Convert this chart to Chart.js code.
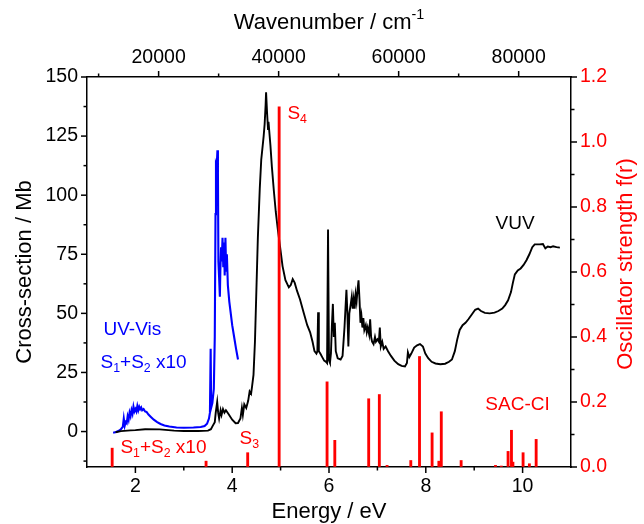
<!DOCTYPE html>
<html><head><meta charset="utf-8">
<script src="https://cdn.jsdelivr.net/npm/chart.js@4/dist/chart.umd.min.js"></script>
<style>html,body{margin:0;padding:0;background:#fff}</style>
</head><body>
<canvas id="c" width="644" height="524"></canvas>
<script>
// ---------- data ----------
const vuvEnergy = [1.59,1.7,1.9,2.0,2.2,2.5,2.8,3.0,3.3,3.5,3.56,3.60,3.64,3.66,3.69,3.71,3.73,3.76,3.78,3.81,3.84,3.87,3.92,4.00,4.07,4.12,4.17,4.20,4.22,4.25,4.29,4.33,4.36,4.39,4.41,4.44,4.47,4.50,4.53,4.57,4.60,4.63,4.65,4.67,4.69,4.70,4.72,4.74,4.75,4.77,4.79,4.82,4.86,4.90,4.94,4.99,5.04,5.10,5.17,5.21,5.25,5.29,5.34,5.40,5.48,5.55,5.61,5.66,5.70,5.74,5.76,5.775,5.79,5.82,5.86,5.90,5.94,5.96,5.98,6.00,6.02,6.04,6.06,6.08,6.10,6.12,6.14,6.18,6.24,6.28,6.32,6.36,6.38,6.40,6.42,6.45,6.47,6.49,6.51,6.53,6.55,6.57,6.59,6.61,6.63,6.65,6.67,6.69,6.71,6.73,6.76,6.78,6.80,6.83,6.85,6.87,6.89,6.92,6.95,6.97,7.00,7.03,7.05,7.07,7.10,7.13,7.17,7.22,7.28,7.35,7.43,7.50,7.57,7.61,7.63,7.66,7.70,7.76,7.82,7.88,7.94,7.99,8.05,8.12,8.20,8.30,8.40,8.48,8.54,8.60,8.65,8.70,8.76,8.82,8.88,8.95,9.02,9.08,9.14,9.22,9.32,9.42,9.50,9.58,9.64,9.70,9.76,9.80,9.84,9.90,9.96,10.02,10.08,10.14,10.20,10.25,10.35,10.42,10.47,10.52,10.58,10.63,10.70,10.77];
const vuvCross = [-0.3,0.2,0.5,0.6,1.0,0.9,0.4,0.2,0.2,0.4,1.0,2.5,4,8,12.5,8,5.5,9,7,9.5,8,9,7.5,5,3.5,3.6,5.5,10,7,11.5,10,13,17,16,19,24,38,60,82,103,115,121,125,130,138,143.5,135,128,131,126,121,112,102,93,86,78,70,64,61,62,64.5,63,59.5,56,50,45,42,38,34,33,34,50.5,34,33,31.5,30,29.5,29,85.5,30,29,33,45,54,40,46,34,31,30.5,32,44,60,50,36,50,54,57,52,56,52,58,55,60,64,56,46,49,44,48,43,45,42,44,41,47.5,40,38,37,40,38,39,38,44,36,38,35,36,34,32,30,28.5,27.8,27.5,29,33.5,31.5,33,35.5,36.5,37,36,33,31,29.5,28.8,28.5,28.7,29.5,30.5,34,39,43,45,46,47.5,49.5,51.5,52,51,50.2,50,50.3,51,52,53.5,55.5,59,63,66.5,68.2,69,70.5,72.5,75,78,79.2,79.2,79.3,77.5,78.3,78,78.4,78,77.8];

const uvEnergy = [1.54,1.60,1.66,1.70,1.74,1.76,1.78,1.80,1.82,1.84,1.86,1.88,1.90,1.92,1.94,1.96,1.98,2.00,2.02,2.04,2.06,2.08,2.10,2.12,2.14,2.17,2.20,2.23,2.27,2.32,2.38,2.45,2.52,2.60,2.70,2.85,3.00,3.20,3.35,3.43,3.48,3.52,3.54,3.555,3.565,3.59,3.62,3.64,3.655,3.665,3.68,3.695,3.705,3.715,3.73,3.745,3.755,3.77,3.785,3.80,3.815,3.83,3.845,3.86,3.875,3.89,3.91,3.94,3.97,4.00,4.04,4.08,4.12];
const uvCross = [-0.5,-0.2,0.3,1.0,2.0,5.5,2.5,4,3.5,6.5,5,8,6.5,9,7.5,10.5,8.5,9.5,8.5,10.8,9,10.5,9.5,10.2,9,9.5,8.5,8.3,7.2,6.2,5.0,4.0,3.2,2.6,2.1,1.7,1.6,1.7,1.9,2.3,3.3,5.5,8,35,10,12,18,40,92,113,112,119,110,72,65,57,68,78,72,82,70,80,66,82,68,75,62,55,50,45,40,35,30.5];

const sacEnergy = [1.52,3.46,4.32,4.97,5.96,6.12,6.82,7.04,7.20,7.69,7.87,8.13,8.27,8.32,8.73,9.44,9.56,9.70,9.77,9.80,10.01,10.14,10.28];
const sacStrength = [0.058,0.018,0.044,1.108,0.262,0.082,0.21,0.223,0.005,0.02,0.34,0.105,0.018,0.17,0.02,0.005,0.003,0.048,0.113,0.015,0.044,0.01,0.085];

// axis ranges & ticks
const energyRange = [1, 11];
const crossRange = [-15, 150];
const strengthRange = [0, 1.2];
const EV_TO_CM = 8065.54;
const energyTicks = [2,3,4,5,6,7,8,9,10];
const energyMajor = [2,4,6,8,10];
const waveTicks = [10000,20000,30000,40000,50000,60000,70000,80000];
const waveMajor = [20000,40000,60000,80000];
const crossTicks = [-12.5,0,12.5,25,37.5,50,62.5,75,87.5,100,112.5,125,137.5,150];
const crossMajor = [0,25,50,75,100,125,150];
const strengthTicks = [0,0.1,0.2,0.3,0.4,0.5,0.6,0.7,0.8,0.9,1.0,1.1,1.2];
const strengthMajor = [0,0.2,0.4,0.6,0.8,1.0,1.2];

// ---------- styling ----------
const FONT = '"Liberation Sans", Arial, Helvetica, sans-serif';
const RED = '#ff0000', BLUE = '#0000ff', BLACK = '#000000';
const has = (arr, v) => arr.some(a => Math.abs(a - v) < 1e-6);
const majorSets = { x: energyMajor, xTop: waveMajor, y: crossMajor, yF: strengthMajor };

const zip = (xs, ys) => xs.map((x, i) => ({ x: x, y: ys[i] }));

const fixedTicks = list => scale => { scale.ticks = list.map(v => ({ value: v })); };

const tickMarkPlugin = {
  id: 'tickMarks',
  afterDraw(chart) {
    const ctx = chart.ctx;
    ctx.save();
    ctx.strokeStyle = BLACK; ctx.lineWidth = 1.5;
    for (const id of ['x', 'xTop', 'y', 'yF']) {
      const s = chart.scales[id];
      s.ticks.forEach(t => {
        const len = has(majorSets[id], t.value) ? 6 : 3.5;
        const p = s.getPixelForValue(t.value);
        ctx.beginPath();
        if (s.position === 'bottom') { ctx.moveTo(p, s.top); ctx.lineTo(p, s.top + len); }
        else if (s.position === 'top') { ctx.moveTo(p, s.bottom); ctx.lineTo(p, s.bottom - len); }
        else if (s.position === 'left') { ctx.moveTo(s.right, p); ctx.lineTo(s.right - len, p); }
        else { ctx.moveTo(s.left, p); ctx.lineTo(s.left + len, p); }
        ctx.stroke();
      });
    }
    ctx.restore();
  }
};

// rich text: parts = [[text, 'sub'|'sup'|undefined], ...]
function drawRich(ctx, parts, x, y, size, color, align) {
  ctx.fillStyle = color;
  ctx.textBaseline = 'middle';
  ctx.textAlign = 'left';
  const widths = parts.map(p => {
    ctx.font = (p[1] ? size * 0.65 : size) + 'px ' + FONT;
    return ctx.measureText(p[0]).width;
  });
  const total = widths.reduce((a, b) => a + b, 0);
  let cx = align === 'center' ? x - total / 2 : x;
  parts.forEach((p, i) => {
    ctx.font = (p[1] ? size * 0.65 : size) + 'px ' + FONT;
    const dy = p[1] === 'sub' ? size * 0.32 : p[1] === 'sup' ? -size * 0.35 : 0;
    ctx.fillText(p[0], cx, y + dy);
    cx += widths[i];
  });
}

const labels = [
  { xv: 1.34, yv: 43, axis: 'y', color: BLUE, parts: [['UV-Vis']] },
  { xv: 1.28, yv: 29, axis: 'y', color: BLUE, parts: [['S'], ['1', 'sub'], ['+S'], ['2', 'sub'], [' x10']] },
  { xv: 1.69, yv: 0.06, axis: 'yF', color: RED, parts: [['S'], ['1', 'sub'], ['+S'], ['2', 'sub'], [' x10']] },
  { xv: 4.15, yv: 0.088, axis: 'yF', color: RED, parts: [['S'], ['3', 'sub']] },
  { xv: 5.14, yv: 1.087, axis: 'yF', color: RED, parts: [['S'], ['4', 'sub']] },
  { xv: 9.44, yv: 88, axis: 'y', color: BLACK, parts: [['VUV']] },
  { xv: 9.23, yv: 0.193, axis: 'yF', color: RED, parts: [['SAC-CI']] }
];

const textPlugin = {
  id: 'texts',
  afterDraw(chart) {
    const ctx = chart.ctx, a = chart.chartArea;
    ctx.save();
    labels.forEach(l => {
      const px = chart.scales.x.getPixelForValue(l.xv);
      const py = chart.scales[l.axis].getPixelForValue(l.yv);
      drawRich(ctx, l.parts, px, py, 19, l.color, 'left');
    });
    const cxm = (a.left + a.right) / 2;
    drawRich(ctx, [['Energy / eV']], cxm, 512, 22, BLACK, 'center');
    drawRich(ctx, [['Wavenumber / cm'], ['-1', 'sup']], cxm, 23, 22, BLACK, 'center');
    ctx.save();
    ctx.translate(25, (a.top + a.bottom) / 2);
    ctx.rotate(-Math.PI / 2);
    drawRich(ctx, [['Cross-section / Mb']], 0, 0, 22, BLACK, 'center');
    ctx.restore();
    ctx.save();
    ctx.translate(626, 264);
    ctx.rotate(-Math.PI / 2);
    drawRich(ctx, [['Oscillator strength f(r)']], 0, 0, 22, RED, 'center');
    ctx.restore();
    ctx.restore();
  }
};

const axisBase = (extra) => Object.assign({
  border: { display: true, color: BLACK, width: 1.5 },
  grid: { display: true, drawOnChartArea: false, drawTicks: false },
}, extra);

new Chart(document.getElementById('c'), {
  type: 'line',
  data: {
    datasets: [
      { type: 'bar', label: 'SAC-CI', data: zip(sacEnergy, sacStrength), xAxisID: 'x', yAxisID: 'yF',
        backgroundColor: RED, borderWidth: 0, barThickness: 2.2, grouped: false, order: 0 },
      { label: 'VUV', data: zip(vuvEnergy, vuvCross), xAxisID: 'x', yAxisID: 'y',
        borderColor: BLACK, borderWidth: 1.9, pointRadius: 0, tension: 0, fill: false, order: 1 },
      { label: 'UV-Vis', data: zip(uvEnergy, uvCross), xAxisID: 'x', yAxisID: 'y',
        borderColor: BLUE, borderWidth: 2.1, pointRadius: 0, tension: 0, fill: false, order: 2 }
    ]
  },
  options: {
    responsive: false, animation: false, devicePixelRatio: 1,
    layout: { padding: 0 },
    plugins: { legend: { display: false }, tooltip: { enabled: false } },
    scales: {
      x: axisBase({ type: 'linear', position: 'bottom', min: energyRange[0], max: energyRange[1], offset: false,
        afterBuildTicks: fixedTicks(energyTicks),
        afterFit: s => { s.height = 57; },
        ticks: { color: BLACK, font: { size: 19.5, family: FONT }, padding: 8, maxRotation: 0, autoSkip: false,
          callback: v => has(energyMajor, v) ? String(v) : '' } }),
      xTop: axisBase({ type: 'linear', position: 'top', display: true,
        min: energyRange[0] * EV_TO_CM, max: energyRange[1] * EV_TO_CM,
        afterBuildTicks: fixedTicks(waveTicks),
        afterFit: s => { s.height = 77; },
        ticks: { color: BLACK, font: { size: 19.5, family: FONT }, padding: 8, maxRotation: 0, autoSkip: false,
          callback: v => has(waveMajor, v) ? String(v) : '' } }),
      y: axisBase({ type: 'linear', position: 'left', min: crossRange[0], max: crossRange[1],
        afterBuildTicks: fixedTicks(crossTicks),
        afterFit: s => { s.width = 87; },
        ticks: { color: BLACK, font: { size: 19.5, family: FONT }, padding: 9, autoSkip: false,
          callback: v => has(crossMajor, v) ? String(v) : '' } }),
      yF: axisBase({ type: 'linear', position: 'right', min: strengthRange[0], max: strengthRange[1],
        afterBuildTicks: fixedTicks(strengthTicks),
        afterFit: s => { s.width = 73; },
        ticks: { color: RED, font: { size: 19.5, family: FONT }, padding: 9, autoSkip: false,
          callback: v => has(strengthMajor, v) ? v.toFixed(1) : '' } })
    }
  },
  plugins: [tickMarkPlugin, textPlugin]
});
</script>
</body></html>
